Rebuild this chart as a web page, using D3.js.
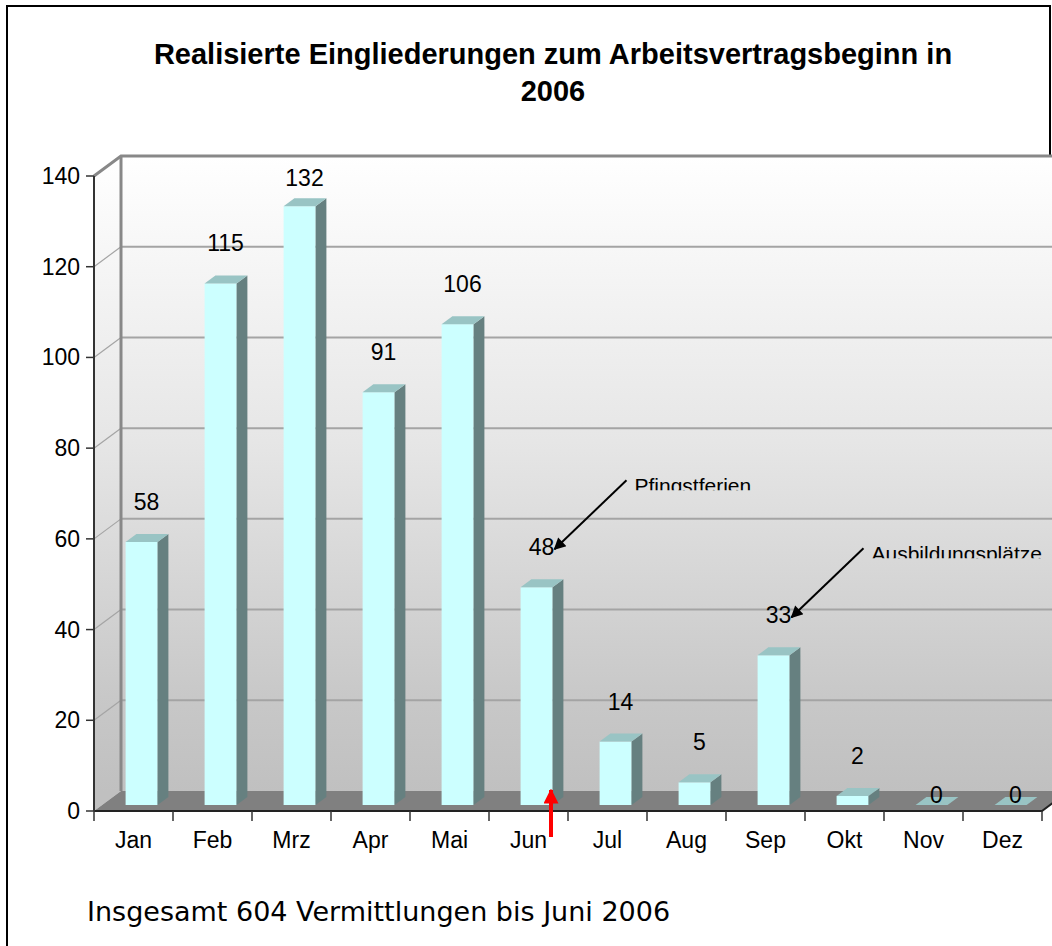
<!DOCTYPE html>
<html>
<head>
<meta charset="utf-8">
<script src="https://cdn.jsdelivr.net/npm/d3@7"></script>
<style>
	body { margin: 0; background: #fff; }
	svg { display: block; }
</style>
</head>
<body>
<svg id="chart" width="1052" height="946"></svg>
<script>
'use strict';

let months = ['Jan', 'Feb', 'Mrz', 'Apr', 'Mai', 'Jun', 'Jul', 'Aug', 'Sep', 'Okt', 'Nov', 'Dez'];
let placements = [58, 115, 132, 91, 106, 48, 14, 5, 33, 2, 0, 0];
let yTicks = [0, 20, 40, 60, 80, 100, 120, 140];
let titleLines = ['Realisierte Eingliederungen zum Arbeitsvertragsbeginn in', '2006'];
let notes = [
	{month: 'Jun', text: 'Pfingstferien'},
	{month: 'Sep', text: 'Ausbildungsplätze'}
];
let markedMonth = 'Jun';
let footer = 'Insgesamt 604 Vermittlungen bis Juni 2006';

let svg = d3.select('#chart');
let defs = svg.append('defs');

let depth = [27, -20];     // wall depth
let barDepth = [0.3, 0.7]; // bar sits in this slice of the depth
let barW = 32;
let arial = '"Liberation Sans", Arial, sans-serif';

let x = d3.scaleBand().domain(months).range([94, 1042]).padding(0);
let y = d3.scaleLinear().domain([0, 140]).range([811, 176]);

let wallGrad = defs.append('linearGradient')
	.attr('id', 'wall')
	.attr('gradientUnits', 'userSpaceOnUse')
	.attr('x1', 0).attr('x2', 0)
	.attr('y1', y(140) + depth[1]).attr('y2', y(0) + depth[1]);
[[0, '#ffffff'], [0.45, '#e6e6e6'], [0.85, '#c8c8c8'], [1, '#c0c0c0']].forEach(s => {
	wallGrad.append('stop').attr('offset', s[0]).attr('stop-color', s[1]);
});

function marker(id, color, w, h) {
	defs.append('marker')
		.attr('id', id)
		.attr('viewBox', '0 0 10 10')
		.attr('refX', 9).attr('refY', 5)
		.attr('markerUnits', 'userSpaceOnUse')
		.attr('markerWidth', w).attr('markerHeight', h)
		.attr('orient', 'auto')
		.append('path')
		.attr('d', 'M0,0L10,5L0,10z')
		.attr('fill', color);
}
marker('head', '#000', 16, 12);
marker('redHead', '#ff0000', 15, 15);

let pt = (px, py) => px + ',' + py;

// outer frame (right side disappears behind the plot)
svg.append('path')
	.attr('d', 'M7,946V6H1050V160')
	.attr('fill', 'none')
	.attr('stroke', '#000')
	.attr('stroke-width', 2);

// title
svg.append('text')
	.attr('text-anchor', 'middle')
	.style('font', 'bold 29px ' + arial)
	.selectAll('tspan')
	.data(titleLines)
	.join('tspan')
	.attr('x', 553)
	.attr('y', (d, i) => 64 + i * 37)
	.text(d => d);

let x0 = x.range()[0], x1 = x.range()[1];
let yTop = y(140), yBase = y(0);

// back wall
svg.append('polygon')
	.attr('points', [pt(x0 + depth[0], yTop + depth[1]), pt(x1 + depth[0], yTop + depth[1]),
		pt(x1 + depth[0], yBase + depth[1]), pt(x0 + depth[0], yBase + depth[1])].join(' '))
	.attr('fill', 'url(#wall)');

// side wall
svg.append('polygon')
	.attr('points', [pt(x0, yTop), pt(x0 + depth[0], yTop + depth[1]),
		pt(x0 + depth[0], yBase + depth[1]), pt(x0, yBase)].join(' '))
	.attr('fill', 'url(#wall)');

// gridlines
let grid = svg.append('g');
yTicks.filter(t => t > 0 && t < 140).forEach(t => {
	grid.append('line')
		.attr('x1', x0 + depth[0]).attr('x2', x1 + depth[0])
		.attr('y1', y(t) + depth[1]).attr('y2', y(t) + depth[1])
		.attr('stroke', '#a4a4a4').attr('stroke-width', 2);
	grid.append('line')
		.attr('x1', x0).attr('x2', x0 + depth[0])
		.attr('y1', y(t)).attr('y2', y(t) + depth[1])
		.attr('stroke', '#a4a4a4').attr('stroke-width', 1.2);
});

// wall edges
svg.append('polyline')
	.attr('points', [pt(x0, yTop), pt(x0 + depth[0], yTop + depth[1]), pt(x1 + depth[0], yTop + depth[1])].join(' '))
	.attr('fill', 'none')
	.attr('stroke', '#888').attr('stroke-width', 3);
svg.append('line')
	.attr('x1', x0 + depth[0]).attr('x2', x0 + depth[0])
	.attr('y1', yTop + depth[1]).attr('y2', yBase + depth[1])
	.attr('stroke', '#888').attr('stroke-width', 3);

// floor
svg.append('polygon')
	.attr('points', [pt(x0, yBase), pt(x1, yBase), pt(x1 + depth[0], yBase + depth[1]),
		pt(x0 + depth[0], yBase + depth[1])].join(' '))
	.attr('fill', '#808080');
svg.append('polyline')
	.attr('points', [pt(x0, yBase), pt(x1, yBase), pt(x1 + depth[0], yBase + depth[1])].join(' '))
	.attr('fill', 'none')
	.attr('stroke', '#222').attr('stroke-width', 2);

// bars
let fx = barDepth[0] * depth[0], fy = barDepth[0] * depth[1];
let dx = (barDepth[1] - barDepth[0]) * depth[0], dy = (barDepth[1] - barDepth[0]) * depth[1];

let bars = svg.append('g')
	.selectAll('g')
	.data(months.map((m, i) => ({m, v: placements[i]})))
	.join('g');

bars.each(function(d) {
	let g = d3.select(this);
	let bx = x(d.m) + (x.bandwidth() - barW) / 2 + fx;
	let yt = y(d.v) + fy;
	let yb = yBase + fy;

	if (d.v > 0) {
		g.append('rect')
			.attr('x', bx).attr('y', yt)
			.attr('width', barW).attr('height', yb - yt)
			.attr('fill', '#ccffff');
		g.append('polygon')
			.attr('points', [pt(bx + barW, yt), pt(bx + barW + dx, yt + dy),
				pt(bx + barW + dx, yb + dy), pt(bx + barW, yb)].join(' '))
			.attr('fill', '#668080');
	}
	g.append('polygon')
		.attr('points', [pt(bx, yt), pt(bx + barW, yt), pt(bx + barW + dx, yt + dy), pt(bx + dx, yt + dy)].join(' '))
		.attr('fill', '#99c4c4');
});

// value labels
let labelX = m => x(m) + x.bandwidth() / 2 + 13;
let labelY = v => v > 0 ? Math.max(186, y(v) - 38) : y(v) - 8;

svg.append('g')
	.selectAll('text')
	.data(months.map((m, i) => ({m, v: placements[i]})))
	.join('text')
	.attr('x', d => labelX(d.m))
	.attr('y', d => labelY(d.v))
	.attr('text-anchor', 'middle')
	.style('font', '23px ' + arial)
	.text(d => d.v);

// y axis
let yAxis = svg.append('g');
yAxis.append('line')
	.attr('x1', x0).attr('x2', x0)
	.attr('y1', yTop).attr('y2', yBase)
	.attr('stroke', '#333').attr('stroke-width', 2);
yTicks.forEach(t => {
	yAxis.append('line')
		.attr('x1', x0 - 8).attr('x2', x0)
		.attr('y1', y(t)).attr('y2', y(t))
		.attr('stroke', '#333').attr('stroke-width', 1.5);
	yAxis.append('text')
		.attr('x', x0 - 14).attr('y', y(t) + 8)
		.attr('text-anchor', 'end')
		.style('font', '23px ' + arial)
		.text(t);
});

// x axis
let xAxis = svg.append('g');
months.concat(['']).forEach((m, i) => {
	let tx = x0 + i * x.step();
	xAxis.append('line')
		.attr('x1', tx).attr('x2', tx)
		.attr('y1', yBase).attr('y2', yBase + 10)
		.attr('stroke', '#333').attr('stroke-width', 1.5);
});
xAxis.selectAll('text')
	.data(months)
	.join('text')
	.attr('x', m => x(m) + x.bandwidth() / 2)
	.attr('y', yBase + 37)
	.attr('text-anchor', 'middle')
	.style('font', '23px ' + arial)
	.text(m => m);

// annotations
notes.forEach((n, i) => {
	let v = placements[months.indexOf(n.month)];
	let tip = [labelX(n.month) + 13, labelY(v) - 6];
	let start = [tip[0] + 72, tip[1] - 69];
	let capTop = start[1] - 2;

	svg.append('line')
		.attr('x1', start[0]).attr('y1', start[1])
		.attr('x2', tip[0]).attr('y2', tip[1])
		.attr('stroke', '#000').attr('stroke-width', 2)
		.attr('marker-end', 'url(#head)');

	defs.append('clipPath')
		.attr('id', 'noteClip' + i)
		.append('rect')
		.attr('x', start[0]).attr('y', capTop - 10)
		.attr('width', 300).attr('height', 22);

	svg.append('text')
		.attr('x', start[0] + 8)
		.attr('y', capTop + 15)
		.attr('clip-path', `url(#noteClip${i})`)
		.style('font', '21px ' + arial)
		.text(n.text);
});

// red marker under the current month
let rx = x(markedMonth) + 62;
svg.append('line')
	.attr('x1', rx).attr('x2', rx)
	.attr('y1', yBase + 26).attr('y2', yBase - 21)
	.attr('stroke', '#ff0000').attr('stroke-width', 4)
	.attr('marker-end', 'url(#redHead)');

// footer
svg.append('text')
	.attr('x', 87).attr('y', 921)
	.style('font', '27px "DejaVu Sans", Verdana, sans-serif')
	.text(footer);
</script>
</body>
</html>
